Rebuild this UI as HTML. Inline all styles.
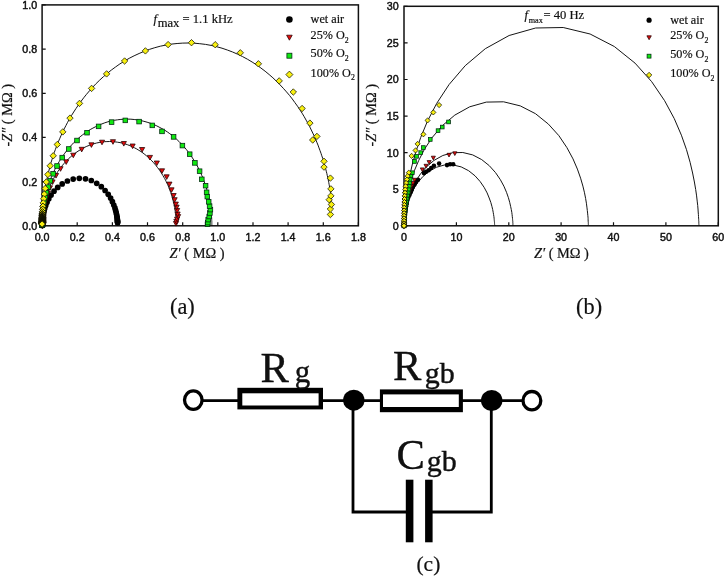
<!DOCTYPE html><html><head><meta charset="utf-8"><title>Impedance spectra</title>
<style>html,body{margin:0;padding:0;background:#fff}svg{display:block}.tk{font-family:"Liberation Sans",sans-serif;font-size:10.7px;fill:#111;stroke:#111;stroke-width:.45px}.se{font-family:"Liberation Serif",serif;fill:#111;stroke:#111;stroke-width:.2px}</style></head><body>
<svg width="725" height="578" viewBox="0 0 725 578">
<rect width="725" height="578" fill="#fff"/>
<rect x="42.1" y="4.9" width="316.29999999999995" height="220.9" fill="none" stroke="#111" stroke-width="1.5"/><path d="M42.1 225.8v-3.6M77.2 225.8v-3.6M112.4 225.8v-3.6M147.5 225.8v-3.6M182.7 225.8v-3.6M217.8 225.8v-3.6M253.0 225.8v-3.6M288.1 225.8v-3.6M323.3 225.8v-3.6M358.4 225.8v-3.6M42.1 225.8h3.6M42.1 181.6h3.6M42.1 137.4h3.6M42.1 93.3h3.6M42.1 49.1h3.6M42.1 4.9h3.6" stroke="#111" stroke-width="1.2" fill="none"/>
<path d="M42.1 225.8L42.1 225.7L42.1 225.6L42.1 225.5L42.1 225.4L42.1 225.3L42.1 225.2L42.1 225.1L42.1 225.0L42.1 224.9L42.1 224.8L42.1 224.7L42.1 224.6L42.1 224.5L42.1 224.4L42.1 224.3L42.1 224.2L42.1 224.1L42.1 224.0L42.1 223.9L42.1 223.8L42.1 223.7L42.1 223.6L42.1 223.5L42.1 223.4L42.1 223.3L42.1 223.2L42.1 223.1L42.1 223.0L42.1 222.9L42.1 222.8L42.1 222.7L42.1 222.6L42.2 222.4L42.2 222.3L42.2 222.2L42.2 222.0L42.2 221.9L42.2 221.7L42.2 221.6L42.2 221.4L42.2 221.2L42.2 221.0L42.2 220.8L42.2 220.6L42.2 220.4L42.2 220.2L42.3 220.0L42.3 219.8L42.3 219.5L42.3 219.3L42.3 219.0L42.3 218.7L42.4 218.5L42.4 218.2L42.4 217.9L42.4 217.5L42.4 217.2L42.5 216.9L42.5 216.5L42.5 216.1L42.6 215.8L42.6 215.4L42.7 215.0L42.7 214.5L42.8 214.1L42.8 213.6L42.9 213.1L42.9 212.6L43.0 212.1L43.1 211.6L43.1 211.0L43.2 210.4L43.3 209.8L43.4 209.2L43.5 208.5L43.6 207.9L43.8 207.2L43.9 206.4L44.0 205.7L44.2 204.9L44.4 204.1L44.5 203.3L44.7 202.4L44.9 201.5L45.2 200.6L45.4 199.6L45.7 198.6L46.0 197.6L46.3 196.5L46.6 195.4L47.0 194.3L47.3 193.1L47.7 192.0L48.2 190.7L48.7 189.4L49.2 188.1L49.7 186.8L50.3 185.4L50.9 184.0L51.6 182.6L52.3 181.1L53.1 179.6L53.9 178.1L54.7 176.5L55.7 175.0L56.7 173.4L57.7 171.7L58.8 170.1L60.0 168.5L61.3 166.8L62.6 165.2L64.0 163.5L65.5 161.9L67.0 160.2L68.6 158.6L70.4 157.1L72.1 155.5L74.0 154.0L76.0 152.6L78.0 151.2L80.1 149.9L82.3 148.6L84.5 147.4L86.8 146.3L89.2 145.4L91.6 144.5L94.1 143.7L96.6 143.0L99.1 142.5L101.7 142.0L104.3 141.7L106.9 141.6L109.6 141.5L112.2 141.6L114.8 141.8L117.4 142.2L120.0 142.6L122.5 143.2L125.0 143.9L127.5 144.7L129.9 145.7L132.3 146.7L134.5 147.8L136.8 149.0L138.9 150.3L141.0 151.6L143.0 153.0L144.9 154.5L146.7 156.0L148.5 157.6L150.2 159.2L151.8 160.8L153.3 162.4L154.8 164.1L156.1 165.7L157.4 167.4L158.7 169.0L159.8 170.6L160.9 172.3L161.9 173.9L162.9 175.5L163.8 177.1L164.7 178.6L165.5 180.1L166.2 181.6L166.9 183.1L167.6 184.5L168.2 185.9L168.8 187.3L169.3 188.6L169.8 189.9L170.2 191.1L170.7 192.4L171.1 193.5L171.4 194.7L171.8 195.8L172.1 196.9L172.4 197.9L172.7 199.0L172.9 199.9L173.2 200.9L173.4 201.8L173.6 202.7L173.8 203.5L174.0 204.4L174.1 205.2L174.3 205.9L174.4 206.7L174.6 207.4L174.7 208.1L174.8 208.8L174.9 209.4L175.0 210.0L175.1 210.6L175.2 211.2L175.2 211.7L175.3 212.3L175.4 212.8L175.4 213.3L175.5 213.8L175.5 214.2L175.6 214.7L175.6 215.1L175.7 215.5L175.7 215.9L175.7 216.3L175.8 216.6L175.8 217.0L175.8 217.3L175.9 217.6L175.9 218.0L175.9 218.3L175.9 218.5L175.9 218.8L176.0 219.1L176.0 219.4L176.0 219.6L176.0 219.8L176.0 220.1L176.0 220.3L176.0 220.5L176.1 220.7L176.1 220.9L176.1 221.1L176.1 221.3L176.1 221.4L176.1 221.6L176.1 221.8L176.1 221.9L176.1 222.1L176.1 222.2L176.1 222.4L176.1 222.5L176.1 222.6L176.1 222.7L176.1 222.9L176.1 223.0L176.1 223.1L176.1 223.2L176.1 223.3L176.1 223.4L176.2 223.5L176.2 223.6L176.2 223.7L176.2 223.8L176.2 223.9L176.2 224.0L176.2 224.1L176.2 224.2L176.2 224.3L176.2 224.4L176.2 224.5L176.2 224.6L176.2 224.7L176.2 224.8L176.2 224.9L176.2 225.0L176.2 225.1L176.2 225.2L176.2 225.3L176.2 225.4L176.2 225.5L176.2 225.6L176.2 225.8" fill="none" stroke="#151515" stroke-width="1.0" stroke-linejoin="round"/>
<path d="M42.1 225.8L42.1 225.7L42.1 225.6L42.1 225.5L42.1 225.4L42.1 225.3L42.1 225.2L42.1 225.1L42.1 225.0L42.1 224.9L42.1 224.8L42.1 224.7L42.1 224.6L42.1 224.5L42.1 224.4L42.1 224.3L42.1 224.2L42.1 224.1L42.1 224.0L42.1 223.9L42.1 223.8L42.1 223.7L42.1 223.6L42.1 223.5L42.1 223.4L42.1 223.3L42.1 223.2L42.1 223.1L42.1 223.0L42.1 222.9L42.1 222.8L42.1 222.7L42.1 222.6L42.1 222.4L42.1 222.3L42.1 222.2L42.2 222.0L42.2 221.9L42.2 221.7L42.2 221.5L42.2 221.4L42.2 221.2L42.2 221.0L42.2 220.8L42.2 220.6L42.2 220.4L42.2 220.2L42.2 220.0L42.2 219.8L42.2 219.5L42.3 219.3L42.3 219.0L42.3 218.7L42.3 218.4L42.3 218.2L42.3 217.8L42.4 217.5L42.4 217.2L42.4 216.9L42.4 216.5L42.4 216.1L42.5 215.7L42.5 215.3L42.5 214.9L42.6 214.5L42.6 214.0L42.7 213.6L42.7 213.1L42.8 212.6L42.8 212.1L42.9 211.5L42.9 211.0L43.0 210.4L43.1 209.8L43.1 209.1L43.2 208.5L43.3 207.8L43.4 207.1L43.5 206.3L43.6 205.6L43.8 204.8L43.9 204.0L44.0 203.1L44.2 202.2L44.4 201.3L44.6 200.3L44.7 199.4L45.0 198.3L45.2 197.3L45.4 196.2L45.7 195.0L46.0 193.9L46.3 192.6L46.6 191.4L47.0 190.1L47.4 188.7L47.8 187.4L48.2 185.9L48.7 184.5L49.2 182.9L49.8 181.4L50.4 179.8L51.0 178.1L51.7 176.4L52.5 174.7L53.3 172.9L54.1 171.1L55.0 169.2L56.0 167.3L57.0 165.4L58.1 163.4L59.3 161.4L60.5 159.4L61.9 157.4L63.3 155.3L64.8 153.2L66.4 151.1L68.0 149.0L69.8 146.9L71.7 144.9L73.6 142.8L75.7 140.8L77.9 138.8L80.1 136.8L82.5 134.9L85.0 133.1L87.5 131.3L90.2 129.6L92.9 128.1L95.8 126.6L98.7 125.2L101.7 124.0L104.8 122.8L107.9 121.8L111.1 121.0L114.3 120.3L117.6 119.8L120.9 119.4L124.2 119.2L127.5 119.1L130.9 119.2L134.2 119.5L137.5 119.9L140.7 120.5L143.9 121.3L147.1 122.2L150.2 123.2L153.3 124.4L156.2 125.6L159.1 127.1L161.9 128.6L164.7 130.2L167.3 131.9L169.8 133.7L172.2 135.5L174.6 137.5L176.8 139.4L178.9 141.4L181.0 143.5L182.9 145.5L184.7 147.6L186.5 149.7L188.1 151.8L189.7 153.9L191.1 156.0L192.5 158.0L193.8 160.1L195.1 162.1L196.2 164.1L197.3 166.0L198.3 168.0L199.2 169.9L200.1 171.7L201.0 173.5L201.7 175.3L202.5 177.0L203.1 178.7L203.7 180.3L204.3 181.9L204.9 183.5L205.4 185.0L205.9 186.4L206.3 187.8L206.7 189.2L207.1 190.5L207.4 191.8L207.8 193.1L208.1 194.3L208.3 195.4L208.6 196.5L208.8 197.6L209.1 198.7L209.3 199.7L209.5 200.7L209.6 201.6L209.8 202.5L210.0 203.4L210.1 204.2L210.2 205.0L210.3 205.8L210.5 206.6L210.6 207.3L210.7 208.0L210.7 208.7L210.8 209.3L210.9 210.0L211.0 210.6L211.0 211.1L211.1 211.7L211.2 212.2L211.2 212.8L211.3 213.3L211.3 213.7L211.3 214.2L211.4 214.6L211.4 215.1L211.4 215.5L211.5 215.9L211.5 216.3L211.5 216.6L211.6 217.0L211.6 217.3L211.6 217.6L211.6 217.9L211.6 218.2L211.7 218.5L211.7 218.8L211.7 219.1L211.7 219.3L211.7 219.6L211.7 219.8L211.7 220.1L211.7 220.3L211.7 220.5L211.8 220.7L211.8 220.9L211.8 221.1L211.8 221.3L211.8 221.4L211.8 221.6L211.8 221.8L211.8 221.9L211.8 222.1L211.8 222.2L211.8 222.4L211.8 222.5L211.8 222.6L211.8 222.7L211.8 222.9L211.8 223.0L211.8 223.1L211.8 223.2L211.8 223.3L211.8 223.4L211.8 223.5L211.8 223.6L211.8 223.7L211.8 223.8L211.8 223.9L211.8 224.0L211.8 224.1L211.8 224.2L211.8 224.3L211.8 224.4L211.8 224.5L211.8 224.6L211.8 224.7L211.8 224.8L211.8 224.9L211.8 225.0L211.8 225.1L211.8 225.2L211.8 225.3L211.8 225.4L211.8 225.5L211.8 225.6L211.8 225.8" fill="none" stroke="#151515" stroke-width="1.0" stroke-linejoin="round"/>
<path d="M42.1 225.8L42.1 225.7L42.1 225.6L42.1 225.5L42.1 225.4L42.1 225.3L42.1 225.2L42.1 225.1L42.1 225.0L42.1 224.9L42.1 224.8L42.1 224.7L42.1 224.6L42.1 224.5L42.1 224.4L42.1 224.3L42.1 224.2L42.1 224.1L42.1 224.0L42.1 223.9L42.1 223.8L42.1 223.7L42.1 223.6L42.1 223.5L42.1 223.4L42.1 223.3L42.1 223.2L42.1 223.1L42.1 223.0L42.1 222.8L42.1 222.7L42.1 222.6L42.1 222.5L42.1 222.3L42.1 222.2L42.1 222.1L42.1 221.9L42.1 221.8L42.1 221.6L42.1 221.4L42.1 221.2L42.1 221.1L42.2 220.9L42.2 220.7L42.2 220.5L42.2 220.3L42.2 220.0L42.2 219.8L42.2 219.6L42.2 219.3L42.2 219.1L42.2 218.8L42.2 218.5L42.2 218.2L42.2 217.9L42.2 217.6L42.3 217.3L42.3 216.9L42.3 216.6L42.3 216.2L42.3 215.8L42.3 215.4L42.4 215.0L42.4 214.6L42.4 214.1L42.4 213.7L42.4 213.2L42.5 212.7L42.5 212.2L42.5 211.6L42.6 211.1L42.6 210.5L42.7 209.9L42.7 209.2L42.7 208.6L42.8 207.9L42.9 207.2L42.9 206.4L43.0 205.7L43.1 204.9L43.1 204.0L43.2 203.2L43.3 202.3L43.4 201.3L43.5 200.4L43.6 199.4L43.8 198.3L43.9 197.2L44.0 196.1L44.2 194.9L44.4 193.7L44.5 192.4L44.7 191.1L45.0 189.8L45.2 188.4L45.4 186.9L45.7 185.4L46.0 183.8L46.3 182.2L46.6 180.5L47.0 178.7L47.4 176.9L47.8 175.0L48.3 173.1L48.8 171.1L49.3 169.0L49.9 166.8L50.5 164.6L51.1 162.3L51.9 159.9L52.6 157.5L53.5 155.0L54.3 152.4L55.3 149.7L56.3 147.0L57.4 144.1L58.6 141.2L59.9 138.2L61.2 135.2L62.7 132.1L64.2 128.9L65.9 125.6L67.6 122.3L69.5 118.9L71.5 115.5L73.7 112.0L76.0 108.5L78.4 105.0L81.0 101.4L83.7 97.8L86.5 94.3L89.6 90.7L92.8 87.1L96.1 83.6L99.7 80.1L103.4 76.7L107.3 73.4L111.3 70.1L115.5 67.0L119.9 63.9L124.5 61.1L129.2 58.3L134.1 55.8L139.1 53.5L144.2 51.3L149.4 49.4L154.8 47.7L160.3 46.2L165.8 45.1L171.4 44.1L177.1 43.5L182.8 43.1L188.5 43.0L194.2 43.2L199.8 43.7L205.5 44.4L211.1 45.4L216.6 46.7L222.0 48.2L227.3 50.0L232.6 52.0L237.6 54.2L242.6 56.6L247.4 59.2L252.1 62.0L256.6 64.9L260.9 68.0L265.1 71.2L269.1 74.5L272.9 77.8L276.5 81.3L280.0 84.8L283.3 88.3L286.5 91.9L289.5 95.4L292.3 99.0L294.9 102.6L297.5 106.2L299.8 109.7L302.1 113.2L304.2 116.7L306.1 120.1L308.0 123.4L309.7 126.7L311.3 130.0L312.8 133.1L314.3 136.2L315.6 139.2L316.8 142.2L318.0 145.1L319.0 147.9L320.0 150.6L321.0 153.3L321.8 155.8L322.7 158.3L323.4 160.7L324.1 163.1L324.7 165.4L325.3 167.6L325.9 169.7L326.4 171.8L326.9 173.7L327.3 175.7L327.8 177.5L328.1 179.3L328.5 181.1L328.8 182.7L329.1 184.3L329.4 185.9L329.7 187.4L329.9 188.8L330.1 190.2L330.3 191.6L330.5 192.9L330.7 194.1L330.9 195.3L331.0 196.5L331.2 197.6L331.3 198.7L331.4 199.7" fill="none" stroke="#151515" stroke-width="1.0" stroke-linejoin="round"/>
<g><circle cx="117.6" cy="222.8" r="2.85" fill="#000"/><circle cx="117.6" cy="222.2" r="2.85" fill="#000"/><circle cx="117.5" cy="221.6" r="2.85" fill="#000"/><circle cx="117.5" cy="220.8" r="2.85" fill="#000"/><circle cx="117.4" cy="219.9" r="2.85" fill="#000"/><circle cx="117.3" cy="218.9" r="2.85" fill="#000"/><circle cx="117.1" cy="217.7" r="2.85" fill="#000"/><circle cx="116.9" cy="216.3" r="2.85" fill="#000"/><circle cx="116.6" cy="214.6" r="2.85" fill="#000"/><circle cx="116.2" cy="212.7" r="2.85" fill="#000"/><circle cx="115.6" cy="210.4" r="2.85" fill="#000"/><circle cx="114.9" cy="207.9" r="2.85" fill="#000"/><circle cx="113.8" cy="205.0" r="2.85" fill="#000"/><circle cx="112.4" cy="201.7" r="2.85" fill="#000"/><circle cx="110.6" cy="198.1" r="2.85" fill="#000"/><circle cx="108.2" cy="194.3" r="2.85" fill="#000"/><circle cx="105.1" cy="190.5" r="2.85" fill="#000"/><circle cx="101.3" cy="186.7" r="2.85" fill="#000"/><circle cx="96.7" cy="183.3" r="2.85" fill="#000"/><circle cx="91.3" cy="180.5" r="2.85" fill="#000"/><circle cx="85.5" cy="178.8" r="2.85" fill="#000"/><circle cx="79.3" cy="178.3" r="2.85" fill="#000"/><circle cx="73.2" cy="179.1" r="2.85" fill="#000"/><circle cx="67.4" cy="181.0" r="2.85" fill="#000"/><circle cx="62.2" cy="183.9" r="2.85" fill="#000"/><circle cx="57.7" cy="187.4" r="2.85" fill="#000"/><circle cx="54.0" cy="191.2" r="2.85" fill="#000"/><circle cx="51.1" cy="195.1" r="2.85" fill="#000"/><circle cx="48.8" cy="198.8" r="2.85" fill="#000"/><circle cx="47.0" cy="202.3" r="2.85" fill="#000"/><circle cx="45.7" cy="205.5" r="2.85" fill="#000"/><circle cx="44.7" cy="208.4" r="2.85" fill="#000"/><circle cx="44.0" cy="210.9" r="2.85" fill="#000"/><circle cx="43.5" cy="213.0" r="2.85" fill="#000"/><circle cx="43.1" cy="214.9" r="2.85" fill="#000"/><circle cx="42.8" cy="216.5" r="2.85" fill="#000"/><circle cx="42.6" cy="217.9" r="2.85" fill="#000"/><circle cx="42.5" cy="219.1" r="2.85" fill="#000"/><circle cx="42.4" cy="220.1" r="2.85" fill="#000"/><circle cx="42.3" cy="221.0" r="2.85" fill="#000"/><circle cx="42.2" cy="221.7" r="2.85" fill="#000"/><circle cx="42.2" cy="222.3" r="2.85" fill="#000"/><circle cx="42.2" cy="222.8" r="2.85" fill="#000"/><circle cx="42.2" cy="223.3" r="2.85" fill="#000"/><circle cx="42.1" cy="223.7" r="2.85" fill="#000"/><circle cx="42.1" cy="224.0" r="2.85" fill="#000"/><circle cx="42.1" cy="224.3" r="2.85" fill="#000"/><circle cx="42.1" cy="224.5" r="2.85" fill="#000"/><circle cx="42.1" cy="224.7" r="2.85" fill="#000"/><circle cx="42.1" cy="224.9" r="2.85" fill="#000"/><circle cx="42.1" cy="225.0" r="2.85" fill="#000"/><circle cx="42.1" cy="225.1" r="2.85" fill="#000"/><circle cx="42.1" cy="225.2" r="2.85" fill="#000"/><circle cx="42.1" cy="225.3" r="2.85" fill="#000"/><circle cx="42.1" cy="225.4" r="2.85" fill="#000"/></g>
<g><path d="M173.4 221.5L178.6 221.5L176.0 226.1Z" fill="#e40c0c" stroke="#200" stroke-width="0.75"/><path d="M173.8 219.4L179.0 219.4L176.4 224.0Z" fill="#e40c0c" stroke="#200" stroke-width="0.75"/><path d="M174.5 217.2L179.7 217.2L177.1 221.8Z" fill="#e40c0c" stroke="#200" stroke-width="0.75"/><path d="M175.5 214.6L180.7 214.6L178.1 219.2Z" fill="#e40c0c" stroke="#200" stroke-width="0.75"/><path d="M175.0 212.0L180.2 212.0L177.6 216.6Z" fill="#e40c0c" stroke="#200" stroke-width="0.75"/><path d="M174.5 208.5L179.7 208.5L177.1 213.1Z" fill="#e40c0c" stroke="#200" stroke-width="0.75"/><path d="M174.1 205.1L179.2 205.1L176.7 209.7Z" fill="#e40c0c" stroke="#200" stroke-width="0.75"/><path d="M173.2 202.1L178.4 202.1L175.8 206.7Z" fill="#e40c0c" stroke="#200" stroke-width="0.75"/><path d="M172.0 197.7L177.2 197.7L174.6 202.3Z" fill="#e40c0c" stroke="#200" stroke-width="0.75"/><path d="M171.0 193.5L176.2 193.5L173.6 198.1Z" fill="#e40c0c" stroke="#200" stroke-width="0.75"/><path d="M168.9 187.8L174.1 187.8L171.5 192.4Z" fill="#e40c0c" stroke="#200" stroke-width="0.75"/><path d="M166.8 182.1L172.0 182.1L169.4 186.7Z" fill="#e40c0c" stroke="#200" stroke-width="0.75"/><path d="M164.1 174.8L169.2 174.8L166.7 179.4Z" fill="#e40c0c" stroke="#200" stroke-width="0.75"/><path d="M159.4 168.8L164.6 168.8L162.0 173.4Z" fill="#e40c0c" stroke="#200" stroke-width="0.75"/><path d="M154.2 161.0L159.4 161.0L156.8 165.6Z" fill="#e40c0c" stroke="#200" stroke-width="0.75"/><path d="M147.3 155.4L152.5 155.4L149.9 160.0Z" fill="#e40c0c" stroke="#200" stroke-width="0.75"/><path d="M139.5 147.5L144.7 147.5L142.1 152.1Z" fill="#e40c0c" stroke="#200" stroke-width="0.75"/><path d="M130.0 144.0L135.2 144.0L132.6 148.6Z" fill="#e40c0c" stroke="#200" stroke-width="0.75"/><path d="M121.3 141.5L126.4 141.5L123.8 146.1Z" fill="#e40c0c" stroke="#200" stroke-width="0.75"/><path d="M110.4 139.7L115.5 139.7L113.0 144.3Z" fill="#e40c0c" stroke="#200" stroke-width="0.75"/><path d="M99.5 140.2L104.6 140.2L102.0 144.8Z" fill="#e40c0c" stroke="#200" stroke-width="0.75"/><path d="M88.9 142.8L94.0 142.8L91.4 147.4Z" fill="#e40c0c" stroke="#200" stroke-width="0.75"/><path d="M79.2 147.3L84.3 147.3L81.7 151.9Z" fill="#e40c0c" stroke="#200" stroke-width="0.75"/><path d="M70.7 153.2L75.8 153.2L73.3 157.7Z" fill="#e40c0c" stroke="#200" stroke-width="0.75"/><path d="M63.7 159.8L68.8 159.8L66.2 164.4Z" fill="#e40c0c" stroke="#200" stroke-width="0.75"/><path d="M58.0 166.7L63.1 166.7L60.5 171.3Z" fill="#e40c0c" stroke="#200" stroke-width="0.75"/><path d="M53.5 173.5L58.6 173.5L56.0 178.1Z" fill="#e40c0c" stroke="#200" stroke-width="0.75"/><path d="M50.0 179.9L55.1 179.9L52.6 184.5Z" fill="#e40c0c" stroke="#200" stroke-width="0.75"/><path d="M47.4 185.8L52.5 185.8L49.9 190.4Z" fill="#e40c0c" stroke="#200" stroke-width="0.75"/><path d="M45.4 191.1L50.5 191.1L48.0 195.7Z" fill="#e40c0c" stroke="#200" stroke-width="0.75"/><path d="M44.0 195.7L49.1 195.7L46.6 200.3Z" fill="#e40c0c" stroke="#200" stroke-width="0.75"/><path d="M42.9 199.8L48.0 199.8L45.5 204.4Z" fill="#e40c0c" stroke="#200" stroke-width="0.75"/><path d="M42.2 203.3L47.3 203.3L44.7 207.9Z" fill="#e40c0c" stroke="#200" stroke-width="0.95"/><path d="M41.6 206.4L46.7 206.4L44.2 211.0Z" fill="#e40c0c" stroke="#200" stroke-width="0.95"/><path d="M41.2 209.0L46.3 209.0L43.8 213.6Z" fill="#e40c0c" stroke="#200" stroke-width="0.95"/><path d="M40.9 211.2L46.0 211.2L43.5 215.8Z" fill="#e40c0c" stroke="#200" stroke-width="1.15"/><path d="M40.7 213.1L45.8 213.1L43.2 217.7Z" fill="#e40c0c" stroke="#200" stroke-width="1.15"/><path d="M40.5 214.7L45.6 214.7L43.1 219.3Z" fill="#e40c0c" stroke="#200" stroke-width="1.15"/><path d="M40.4 216.1L45.5 216.1L43.0 220.7Z" fill="#e40c0c" stroke="#200" stroke-width="1.35"/><path d="M40.4 217.3L45.5 217.3L42.9 221.9Z" fill="#e40c0c" stroke="#200" stroke-width="1.35"/><path d="M40.3 218.3L45.4 218.3L42.8 222.9Z" fill="#e40c0c" stroke="#200" stroke-width="1.35"/><path d="M40.3 219.1L45.4 219.1L42.8 223.7Z" fill="#e40c0c" stroke="#200" stroke-width="1.35"/><path d="M40.2 219.9L45.3 219.9L42.8 224.5Z" fill="#e40c0c" stroke="#200" stroke-width="1.35"/><path d="M40.2 220.5L45.3 220.5L42.8 225.1Z" fill="#e40c0c" stroke="#200" stroke-width="1.35"/><path d="M40.2 221.0L45.3 221.0L42.7 225.6Z" fill="#e40c0c" stroke="#200" stroke-width="1.35"/><path d="M40.2 221.4L45.3 221.4L42.7 226.0Z" fill="#e40c0c" stroke="#200" stroke-width="1.35"/><path d="M40.2 221.8L45.3 221.8L42.7 226.4Z" fill="#e40c0c" stroke="#200" stroke-width="1.35"/><path d="M40.2 222.1L45.3 222.1L42.7 226.7Z" fill="#e40c0c" stroke="#200" stroke-width="1.35"/><path d="M40.2 222.4L45.3 222.4L42.7 227.0Z" fill="#e40c0c" stroke="#200" stroke-width="1.35"/><path d="M40.2 222.6L45.3 222.6L42.7 227.2Z" fill="#e40c0c" stroke="#200" stroke-width="1.35"/><path d="M40.2 222.8L45.3 222.8L42.7 227.4Z" fill="#e40c0c" stroke="#200" stroke-width="1.35"/><path d="M40.2 223.0L45.3 223.0L42.7 227.6Z" fill="#e40c0c" stroke="#200" stroke-width="1.35"/><path d="M40.2 223.1L45.3 223.1L42.7 227.7Z" fill="#e40c0c" stroke="#200" stroke-width="0.75"/></g>
<g><rect x="205.2" y="222.0" width="4.6" height="4.6" fill="#10e810" stroke="#021" stroke-width="0.75"/><rect x="205.6" y="220.3" width="4.6" height="4.6" fill="#10e810" stroke="#021" stroke-width="0.75"/><rect x="205.9" y="217.3" width="4.6" height="4.6" fill="#10e810" stroke="#021" stroke-width="0.75"/><rect x="206.9" y="214.2" width="4.6" height="4.6" fill="#10e810" stroke="#021" stroke-width="0.75"/><rect x="207.6" y="210.7" width="4.6" height="4.6" fill="#10e810" stroke="#021" stroke-width="0.75"/><rect x="208.1" y="207.3" width="4.6" height="4.6" fill="#10e810" stroke="#021" stroke-width="0.75"/><rect x="207.3" y="203.8" width="4.6" height="4.6" fill="#10e810" stroke="#021" stroke-width="0.75"/><rect x="206.4" y="199.5" width="4.6" height="4.6" fill="#10e810" stroke="#021" stroke-width="0.75"/><rect x="205.0" y="194.3" width="4.6" height="4.6" fill="#10e810" stroke="#021" stroke-width="0.75"/><rect x="204.3" y="190.0" width="4.6" height="4.6" fill="#10e810" stroke="#021" stroke-width="0.75"/><rect x="203.3" y="183.4" width="4.6" height="4.6" fill="#10e810" stroke="#021" stroke-width="0.75"/><rect x="199.5" y="177.0" width="4.6" height="4.6" fill="#10e810" stroke="#021" stroke-width="0.75"/><rect x="197.3" y="168.9" width="4.6" height="4.6" fill="#10e810" stroke="#021" stroke-width="0.75"/><rect x="192.6" y="160.6" width="4.6" height="4.6" fill="#10e810" stroke="#021" stroke-width="0.75"/><rect x="187.4" y="151.9" width="4.6" height="4.6" fill="#10e810" stroke="#021" stroke-width="0.75"/><rect x="180.1" y="143.3" width="4.6" height="4.6" fill="#10e810" stroke="#021" stroke-width="0.75"/><rect x="171.3" y="134.6" width="4.6" height="4.6" fill="#10e810" stroke="#021" stroke-width="0.75"/><rect x="159.7" y="129.1" width="4.6" height="4.6" fill="#10e810" stroke="#021" stroke-width="0.75"/><rect x="150.0" y="123.1" width="4.6" height="4.6" fill="#10e810" stroke="#021" stroke-width="0.75"/><rect x="136.8" y="119.3" width="4.6" height="4.6" fill="#10e810" stroke="#021" stroke-width="0.75"/><rect x="123.0" y="118.1" width="4.6" height="4.6" fill="#10e810" stroke="#021" stroke-width="0.75"/><rect x="109.3" y="119.8" width="4.6" height="4.6" fill="#10e810" stroke="#021" stroke-width="0.75"/><rect x="96.3" y="124.1" width="4.6" height="4.6" fill="#10e810" stroke="#021" stroke-width="0.75"/><rect x="84.7" y="130.4" width="4.6" height="4.6" fill="#10e810" stroke="#021" stroke-width="0.75"/><rect x="74.7" y="138.2" width="4.6" height="4.6" fill="#10e810" stroke="#021" stroke-width="0.75"/><rect x="66.5" y="146.7" width="4.6" height="4.6" fill="#10e810" stroke="#021" stroke-width="0.75"/><rect x="59.9" y="155.3" width="4.6" height="4.6" fill="#10e810" stroke="#021" stroke-width="0.75"/><rect x="54.7" y="163.7" width="4.6" height="4.6" fill="#10e810" stroke="#021" stroke-width="0.75"/><rect x="50.8" y="171.5" width="4.6" height="4.6" fill="#10e810" stroke="#021" stroke-width="0.75"/><rect x="47.9" y="178.5" width="4.6" height="4.6" fill="#10e810" stroke="#021" stroke-width="0.75"/><rect x="45.7" y="184.8" width="4.6" height="4.6" fill="#10e810" stroke="#021" stroke-width="0.75"/><rect x="44.1" y="190.4" width="4.6" height="4.6" fill="#10e810" stroke="#021" stroke-width="0.75"/><rect x="42.9" y="195.2" width="4.6" height="4.6" fill="#10e810" stroke="#021" stroke-width="0.75"/><rect x="42.0" y="199.4" width="4.6" height="4.6" fill="#10e810" stroke="#021" stroke-width="0.75"/><rect x="41.4" y="202.9" width="4.6" height="4.6" fill="#10e810" stroke="#021" stroke-width="0.95"/><rect x="41.0" y="206.0" width="4.6" height="4.6" fill="#10e810" stroke="#021" stroke-width="0.95"/><rect x="40.6" y="208.6" width="4.6" height="4.6" fill="#10e810" stroke="#021" stroke-width="0.95"/><rect x="40.4" y="210.9" width="4.6" height="4.6" fill="#10e810" stroke="#021" stroke-width="1.15"/><rect x="40.2" y="212.8" width="4.6" height="4.6" fill="#10e810" stroke="#021" stroke-width="1.15"/><rect x="40.1" y="214.4" width="4.6" height="4.6" fill="#10e810" stroke="#021" stroke-width="1.15"/><rect x="40.0" y="215.8" width="4.6" height="4.6" fill="#10e810" stroke="#021" stroke-width="1.35"/><rect x="40.0" y="216.9" width="4.6" height="4.6" fill="#10e810" stroke="#021" stroke-width="1.35"/><rect x="39.9" y="217.9" width="4.6" height="4.6" fill="#10e810" stroke="#021" stroke-width="1.35"/><rect x="39.9" y="218.8" width="4.6" height="4.6" fill="#10e810" stroke="#021" stroke-width="1.35"/><rect x="39.9" y="219.5" width="4.6" height="4.6" fill="#10e810" stroke="#021" stroke-width="1.35"/><rect x="39.8" y="220.1" width="4.6" height="4.6" fill="#10e810" stroke="#021" stroke-width="1.35"/><rect x="39.8" y="220.6" width="4.6" height="4.6" fill="#10e810" stroke="#021" stroke-width="1.35"/><rect x="39.8" y="221.1" width="4.6" height="4.6" fill="#10e810" stroke="#021" stroke-width="1.35"/><rect x="39.8" y="221.4" width="4.6" height="4.6" fill="#10e810" stroke="#021" stroke-width="1.35"/><rect x="39.8" y="221.7" width="4.6" height="4.6" fill="#10e810" stroke="#021" stroke-width="1.35"/><rect x="39.8" y="222.0" width="4.6" height="4.6" fill="#10e810" stroke="#021" stroke-width="1.35"/><rect x="39.8" y="222.2" width="4.6" height="4.6" fill="#10e810" stroke="#021" stroke-width="1.35"/><rect x="39.8" y="222.4" width="4.6" height="4.6" fill="#10e810" stroke="#021" stroke-width="1.35"/><rect x="39.8" y="222.6" width="4.6" height="4.6" fill="#10e810" stroke="#021" stroke-width="0.75"/></g>
<g><path d="M327.2 214.5L330.4 211.3L333.6 214.5L330.4 217.7Z" fill="#f8f010" stroke="#110" stroke-width="0.75"/><path d="M327.2 209.0L330.4 205.8L333.6 209.0L330.4 212.2Z" fill="#f8f010" stroke="#110" stroke-width="0.75"/><path d="M328.2 204.5L331.4 201.3L334.6 204.5L331.4 207.7Z" fill="#f8f010" stroke="#110" stroke-width="0.75"/><path d="M326.0 199.7L329.2 196.5L332.4 199.7L329.2 202.9Z" fill="#f8f010" stroke="#110" stroke-width="0.75"/><path d="M327.7 195.9L330.9 192.7L334.1 195.9L330.9 199.1Z" fill="#f8f010" stroke="#110" stroke-width="0.75"/><path d="M327.7 188.9L330.9 185.7L334.1 188.9L330.9 192.1Z" fill="#f8f010" stroke="#110" stroke-width="0.75"/><path d="M327.2 178.1L330.4 174.9L333.6 178.1L330.4 181.3Z" fill="#f8f010" stroke="#110" stroke-width="0.75"/><path d="M320.8 167.1L324.0 163.9L327.2 167.1L324.0 170.3Z" fill="#f8f010" stroke="#110" stroke-width="0.75"/><path d="M320.8 161.3L324.0 158.1L327.2 161.3L324.0 164.5Z" fill="#f8f010" stroke="#110" stroke-width="0.75"/><path d="M309.5 140.0L312.7 136.8L315.9 140.0L312.7 143.2Z" fill="#f8f010" stroke="#110" stroke-width="0.75"/><path d="M313.7 136.4L316.9 133.2L320.1 136.4L316.9 139.6Z" fill="#f8f010" stroke="#110" stroke-width="0.75"/><path d="M306.7 123.1L309.9 119.9L313.1 123.1L309.9 126.3Z" fill="#f8f010" stroke="#110" stroke-width="0.75"/><path d="M298.9 108.5L302.1 105.3L305.3 108.5L302.1 111.7Z" fill="#f8f010" stroke="#110" stroke-width="0.75"/><path d="M290.1 92.0L293.3 88.8L296.5 92.0L293.3 95.2Z" fill="#f8f010" stroke="#110" stroke-width="0.75"/><path d="M276.0 80.9L279.2 77.7L282.4 80.9L279.2 84.1Z" fill="#f8f010" stroke="#110" stroke-width="0.75"/><path d="M255.2 63.8L258.4 60.6L261.6 63.8L258.4 67.0Z" fill="#f8f010" stroke="#110" stroke-width="0.75"/><path d="M237.1 52.8L240.3 49.6L243.5 52.8L240.3 56.0Z" fill="#f8f010" stroke="#110" stroke-width="0.75"/><path d="M212.0 44.7L215.2 41.5L218.4 44.7L215.2 47.9Z" fill="#f8f010" stroke="#110" stroke-width="0.75"/><path d="M188.3 42.7L191.5 39.5L194.7 42.7L191.5 45.9Z" fill="#f8f010" stroke="#110" stroke-width="0.75"/><path d="M164.9 44.6L168.1 41.4L171.3 44.6L168.1 47.8Z" fill="#f8f010" stroke="#110" stroke-width="0.75"/><path d="M142.2 50.9L145.4 47.7L148.6 50.9L145.4 54.1Z" fill="#f8f010" stroke="#110" stroke-width="0.75"/><path d="M121.4 61.0L124.6 57.8L127.8 61.0L124.6 64.2Z" fill="#f8f010" stroke="#110" stroke-width="0.75"/><path d="M103.4 73.9L106.6 70.7L109.8 73.9L106.6 77.1Z" fill="#f8f010" stroke="#110" stroke-width="0.75"/><path d="M88.4 88.4L91.6 85.2L94.8 88.4L91.6 91.6Z" fill="#f8f010" stroke="#110" stroke-width="0.75"/><path d="M76.3 103.4L79.5 100.2L82.7 103.4L79.5 106.6Z" fill="#f8f010" stroke="#110" stroke-width="0.75"/><path d="M66.8 118.1L70.0 114.9L73.2 118.1L70.0 121.3Z" fill="#f8f010" stroke="#110" stroke-width="0.75"/><path d="M59.6 131.9L62.8 128.7L66.0 131.9L62.8 135.1Z" fill="#f8f010" stroke="#110" stroke-width="0.75"/><path d="M54.1 144.5L57.3 141.3L60.5 144.5L57.3 147.7Z" fill="#f8f010" stroke="#110" stroke-width="0.75"/><path d="M50.0 155.8L53.2 152.6L56.4 155.8L53.2 159.0Z" fill="#f8f010" stroke="#110" stroke-width="0.75"/><path d="M47.0 165.8L50.2 162.6L53.4 165.8L50.2 169.0Z" fill="#f8f010" stroke="#110" stroke-width="0.75"/><path d="M44.7 174.5L47.9 171.3L51.1 174.5L47.9 177.7Z" fill="#f8f010" stroke="#110" stroke-width="0.75"/><path d="M43.1 182.0L46.3 178.8L49.5 182.0L46.3 185.2Z" fill="#f8f010" stroke="#110" stroke-width="0.75"/><path d="M42.0 188.5L45.2 185.3L48.4 188.5L45.2 191.7Z" fill="#f8f010" stroke="#110" stroke-width="0.75"/><path d="M41.1 194.1L44.3 190.9L47.5 194.1L44.3 197.3Z" fill="#f8f010" stroke="#110" stroke-width="0.75"/><path d="M40.5 198.8L43.7 195.6L46.9 198.8L43.7 202.0Z" fill="#f8f010" stroke="#110" stroke-width="0.75"/><path d="M40.0 202.9L43.2 199.7L46.4 202.9L43.2 206.1Z" fill="#f8f010" stroke="#110" stroke-width="0.75"/><path d="M39.7 206.3L42.9 203.1L46.1 206.3L42.9 209.5Z" fill="#f8f010" stroke="#110" stroke-width="0.95"/><path d="M39.5 209.3L42.7 206.1L45.9 209.3L42.7 212.5Z" fill="#f8f010" stroke="#110" stroke-width="0.95"/><path d="M39.3 211.8L42.5 208.6L45.7 211.8L42.5 215.0Z" fill="#f8f010" stroke="#110" stroke-width="0.95"/><path d="M39.2 213.9L42.4 210.7L45.6 213.9L42.4 217.1Z" fill="#f8f010" stroke="#110" stroke-width="1.15"/><path d="M39.1 215.7L42.3 212.5L45.5 215.7L42.3 218.9Z" fill="#f8f010" stroke="#110" stroke-width="1.15"/><path d="M39.1 217.2L42.3 214.0L45.5 217.2L42.3 220.4Z" fill="#f8f010" stroke="#110" stroke-width="1.35"/><path d="M39.0 218.5L42.2 215.3L45.4 218.5L42.2 221.7Z" fill="#f8f010" stroke="#110" stroke-width="1.35"/><path d="M39.0 219.6L42.2 216.4L45.4 219.6L42.2 222.8Z" fill="#f8f010" stroke="#110" stroke-width="1.35"/><path d="M39.0 220.6L42.2 217.4L45.4 220.6L42.2 223.8Z" fill="#f8f010" stroke="#110" stroke-width="1.35"/><path d="M38.9 221.4L42.1 218.2L45.3 221.4L42.1 224.6Z" fill="#f8f010" stroke="#110" stroke-width="1.35"/><path d="M38.9 222.0L42.1 218.8L45.3 222.0L42.1 225.2Z" fill="#f8f010" stroke="#110" stroke-width="1.35"/><path d="M38.9 222.6L42.1 219.4L45.3 222.6L42.1 225.8Z" fill="#f8f010" stroke="#110" stroke-width="1.35"/><path d="M38.9 223.1L42.1 219.9L45.3 223.1L42.1 226.3Z" fill="#f8f010" stroke="#110" stroke-width="1.35"/><path d="M38.9 223.5L42.1 220.3L45.3 223.5L42.1 226.7Z" fill="#f8f010" stroke="#110" stroke-width="1.35"/><path d="M38.9 223.8L42.1 220.6L45.3 223.8L42.1 227.0Z" fill="#f8f010" stroke="#110" stroke-width="1.35"/><path d="M38.9 224.1L42.1 220.9L45.3 224.1L42.1 227.3Z" fill="#f8f010" stroke="#110" stroke-width="0.75"/></g>
<text class="tk" x="42.1" y="240.7" text-anchor="middle">0.0</text>
<text class="tk" x="77.2" y="240.7" text-anchor="middle">0.2</text>
<text class="tk" x="112.4" y="240.7" text-anchor="middle">0.4</text>
<text class="tk" x="147.5" y="240.7" text-anchor="middle">0.6</text>
<text class="tk" x="182.7" y="240.7" text-anchor="middle">0.8</text>
<text class="tk" x="217.8" y="240.7" text-anchor="middle">1.0</text>
<text class="tk" x="253.0" y="240.7" text-anchor="middle">1.2</text>
<text class="tk" x="288.1" y="240.7" text-anchor="middle">1.4</text>
<text class="tk" x="323.3" y="240.7" text-anchor="middle">1.6</text>
<text class="tk" x="358.4" y="240.7" text-anchor="middle">1.8</text>
<text class="tk" x="37.2" y="229.7" text-anchor="end">0.0</text>
<text class="tk" x="37.2" y="185.5" text-anchor="end">0.2</text>
<text class="tk" x="37.2" y="141.3" text-anchor="end">0.4</text>
<text class="tk" x="37.2" y="97.2" text-anchor="end">0.6</text>
<text class="tk" x="37.2" y="53.0" text-anchor="end">0.8</text>
<text class="tk" x="37.2" y="8.8" text-anchor="end">1.0</text>
<rect x="404.0" y="6.3" width="314.29999999999995" height="219.5" fill="none" stroke="#111" stroke-width="1.5"/><path d="M404.0 225.8v-3.6M456.4 225.8v-3.6M508.8 225.8v-3.6M561.1 225.8v-3.6M613.5 225.8v-3.6M665.9 225.8v-3.6M718.3 225.8v-3.6M404.0 225.8h3.6M404.0 189.2h3.6M404.0 152.6h3.6M404.0 116.1h3.6M404.0 79.5h3.6M404.0 42.9h3.6M404.0 6.3h3.6" stroke="#111" stroke-width="1.2" fill="none"/>
<path d="M404.0 225.8L404.0 225.7L404.0 225.6L404.0 225.5L404.0 225.4L404.0 225.3L404.0 225.2L404.0 225.1L404.0 224.9L404.0 224.7L404.0 224.5L404.1 224.2L404.1 223.9L404.1 223.5L404.1 223.0L404.2 222.4L404.2 221.7L404.3 220.8L404.4 219.7L404.5 218.4L404.7 216.9L404.9 215.0L405.3 212.7L405.8 210.0L406.6 206.8L407.6 203.0L409.1 198.7L411.2 193.7L414.0 188.2L417.9 182.4L422.8 176.6L429.0 171.4L436.3 167.3L444.4 165.0L452.9 164.9L461.2 166.9L468.6 170.7L475.0 175.8L480.1 181.5L484.1 187.3L487.1 192.9L489.2 198.0L490.8 202.4L491.9 206.3L492.7 209.6L493.2 212.3L493.6 214.7L493.9 216.6L494.1 218.2L494.2 219.5L494.3 220.6L494.4 221.5L494.5 222.3L494.5 222.9L494.5 223.4L494.6 223.8L494.6 224.2L494.6 224.5L494.6 224.7L494.6 224.9L494.6 225.1L494.6 225.2L494.6 225.3L494.6 225.4L494.6 225.5L494.6 225.6L494.6 225.8" fill="none" stroke="#151515" stroke-width="1.0" stroke-linejoin="round"/>
<path d="M404.0 225.8L404.0 225.7L404.0 225.6L404.0 225.5L404.0 225.4L404.0 225.3L404.0 225.2L404.0 225.1L404.0 224.9L404.0 224.7L404.0 224.5L404.0 224.2L404.1 223.9L404.1 223.5L404.1 223.0L404.1 222.4L404.2 221.7L404.2 220.8L404.3 219.8L404.4 218.5L404.6 216.9L404.8 215.1L405.1 212.8L405.6 210.1L406.2 206.8L407.1 203.0L408.4 198.4L410.2 193.2L412.7 187.2L416.1 180.6L420.7 173.6L426.6 166.7L434.0 160.4L442.8 155.5L452.6 152.7L462.8 152.5L472.7 154.9L481.7 159.6L489.3 165.7L495.5 172.6L500.3 179.6L503.9 186.2L506.5 192.3L508.4 197.7L509.7 202.3L510.6 206.3L511.3 209.6L511.8 212.4L512.1 214.7L512.3 216.7L512.5 218.3L512.6 219.6L512.7 220.7L512.8 221.6L512.8 222.3L512.8 222.9L512.9 223.4L512.9 223.9L512.9 224.2L512.9 224.5L512.9 224.7L512.9 224.9L512.9 225.1L512.9 225.2L512.9 225.3L512.9 225.4L512.9 225.5L513.0 225.5L513.0 225.6L513.0 225.8" fill="none" stroke="#151515" stroke-width="1.0" stroke-linejoin="round"/>
<path d="M404.0 225.8L404.0 225.7L404.0 225.6L404.0 225.5L404.0 225.4L404.0 225.3L404.0 225.2L404.0 225.1L404.0 225.0L404.0 224.8L404.0 224.6L404.0 224.3L404.1 224.0L404.1 223.6L404.1 223.2L404.1 222.6L404.1 221.9L404.2 221.1L404.2 220.1L404.3 218.9L404.4 217.4L404.5 215.6L404.7 213.4L405.0 210.8L405.4 207.6L405.9 203.8L406.7 199.2L407.7 193.7L409.3 187.2L411.4 179.5L414.4 170.6L418.7 160.5L424.4 149.3L432.2 137.5L442.3 125.7L454.8 115.1L469.7 106.8L486.3 102.1L503.6 101.8L520.3 105.9L535.5 113.7L548.4 124.1L558.9 135.7L566.9 147.6L573.0 158.9L577.4 169.1L580.6 178.2L582.9 186.1L584.5 192.8L585.6 198.4L586.4 203.2L586.9 207.1L587.3 210.4L587.6 213.1L587.8 215.3L588.0 217.1L588.1 218.7L588.1 219.9L588.2 221.0L588.2 221.8L588.3 222.5L588.3 223.1L588.3 223.6L588.3 224.0L588.3 224.3L588.4 224.6L588.4 224.8L588.4 225.0L588.4 225.1L588.4 225.2L588.4 225.3L588.4 225.4L588.4 225.5L588.4 225.8" fill="none" stroke="#151515" stroke-width="1.0" stroke-linejoin="round"/>
<path d="M404.0 225.8L404.0 225.7L404.0 225.6L404.0 225.5L404.0 225.4L404.0 225.3L404.0 225.2L404.0 225.1L404.0 224.9L404.0 224.7L404.0 224.5L404.0 224.2L404.1 223.9L404.1 223.5L404.1 223.0L404.1 222.3L404.1 221.6L404.2 220.7L404.2 219.6L404.3 218.3L404.4 216.7L404.5 214.7L404.6 212.3L404.9 209.5L405.2 206.0L405.6 201.8L406.2 196.7L407.1 190.6L408.3 183.2L410.0 174.4L412.4 164.0L415.9 151.7L420.7 137.5L427.4 121.3L436.7 103.4L449.1 84.5L465.2 65.7L485.3 48.7L509.1 35.5L535.6 28.0L563.2 27.5L590.1 34.0L614.3 46.5L635.0 63.1L651.7 81.7L664.6 100.7L674.3 118.7L681.4 135.2L686.5 149.7L690.1 162.3L692.6 173.0L694.4 182.0L695.7 189.6L696.6 195.9L697.2 201.1L697.7 205.4L698.0 209.0L698.2 212.0L698.4 214.4L698.5 216.4L698.6 218.1L698.7 219.4L698.7 220.6L698.8 221.5L698.8 222.2L698.8 222.9L698.8 223.4L698.9 223.8L698.9 224.2L698.9 224.5L698.9 224.7L698.9 224.9L698.9 225.0L698.9 225.2L698.9 225.3L698.9 225.8" fill="none" stroke="#151515" stroke-width="1.0" stroke-linejoin="round"/>
<g><circle cx="453.2" cy="164.3" r="2.28" fill="#000"/><circle cx="450.1" cy="164.3" r="2.28" fill="#000"/><circle cx="447.0" cy="165.1" r="2.28" fill="#000"/><circle cx="439.1" cy="163.6" r="2.28" fill="#000"/><circle cx="433.9" cy="165.8" r="2.28" fill="#000"/><circle cx="431.2" cy="168.0" r="2.28" fill="#000"/><circle cx="428.6" cy="170.2" r="2.28" fill="#000"/><circle cx="426.0" cy="171.7" r="2.28" fill="#000"/><circle cx="423.9" cy="173.1" r="2.28" fill="#000"/><circle cx="418.0" cy="179.8" r="2.28" fill="#000"/><circle cx="415.9" cy="182.0" r="2.28" fill="#000"/><circle cx="414.4" cy="184.6" r="2.28" fill="#000"/><circle cx="412.9" cy="187.1" r="2.28" fill="#000"/><circle cx="411.8" cy="189.7" r="2.28" fill="#000"/><circle cx="410.7" cy="192.3" r="2.28" fill="#000"/><circle cx="409.6" cy="194.7" r="2.28" fill="#000"/><circle cx="408.4" cy="197.1" r="2.28" fill="#000"/><circle cx="407.3" cy="199.4" r="2.28" fill="#000"/><circle cx="406.8" cy="201.9" r="2.28" fill="#000"/><circle cx="406.3" cy="204.2" r="2.28" fill="#000"/><circle cx="405.8" cy="206.6" r="2.28" fill="#000"/><circle cx="405.4" cy="208.9" r="2.28" fill="#000"/><circle cx="405.1" cy="211.1" r="2.28" fill="#000"/><circle cx="404.7" cy="213.3" r="2.28" fill="#000"/><circle cx="404.5" cy="215.5" r="2.28" fill="#000"/><circle cx="404.3" cy="217.6" r="2.28" fill="#000"/><circle cx="404.2" cy="219.6" r="2.28" fill="#000"/><circle cx="404.1" cy="221.6" r="2.28" fill="#000"/><circle cx="404.0" cy="223.6" r="2.28" fill="#000"/><circle cx="404.0" cy="225.5" r="2.28" fill="#000"/><circle cx="404.0" cy="225.8" r="2.28" fill="#000"/></g>
<g><path d="M452.8 151.8L456.9 151.8L454.8 155.5Z" fill="#e40c0c" stroke="#200" stroke-width="0.75"/><path d="M447.0 153.3L451.1 153.3L449.0 157.0Z" fill="#e40c0c" stroke="#200" stroke-width="0.75"/><path d="M431.3 156.2L435.4 156.2L433.3 159.9Z" fill="#e40c0c" stroke="#200" stroke-width="0.75"/><path d="M427.1 160.6L431.2 160.6L429.1 164.3Z" fill="#e40c0c" stroke="#200" stroke-width="0.75"/><path d="M424.0 164.3L428.0 164.3L426.0 167.9Z" fill="#e40c0c" stroke="#200" stroke-width="0.75"/><path d="M420.3 167.9L424.4 167.9L422.3 171.6Z" fill="#e40c0c" stroke="#200" stroke-width="0.75"/><path d="M412.5 178.3L416.5 178.3L414.5 181.9Z" fill="#e40c0c" stroke="#200" stroke-width="0.75"/><path d="M410.9 181.6L415.0 181.6L412.9 185.3Z" fill="#e40c0c" stroke="#200" stroke-width="0.75"/><path d="M409.4 184.8L413.5 184.8L411.4 188.5Z" fill="#e40c0c" stroke="#200" stroke-width="0.75"/><path d="M408.2 188.0L412.3 188.0L410.3 191.7Z" fill="#e40c0c" stroke="#200" stroke-width="0.75"/><path d="M407.2 191.3L411.3 191.3L409.3 195.0Z" fill="#e40c0c" stroke="#200" stroke-width="0.75"/><path d="M406.3 194.5L410.4 194.5L408.3 198.2Z" fill="#e40c0c" stroke="#200" stroke-width="0.75"/><path d="M405.6 197.6L409.7 197.6L407.6 201.3Z" fill="#e40c0c" stroke="#200" stroke-width="0.95"/><path d="M404.9 200.7L409.0 200.7L407.0 204.4Z" fill="#e40c0c" stroke="#200" stroke-width="0.95"/><path d="M404.3 203.7L408.4 203.7L406.4 207.4Z" fill="#e40c0c" stroke="#200" stroke-width="0.95"/><path d="M403.8 206.7L407.9 206.7L405.8 210.4Z" fill="#e40c0c" stroke="#200" stroke-width="0.95"/><path d="M403.3 209.6L407.4 209.6L405.4 213.2Z" fill="#e40c0c" stroke="#200" stroke-width="0.95"/><path d="M403.0 212.4L407.0 212.4L405.0 216.0Z" fill="#e40c0c" stroke="#200" stroke-width="0.95"/><path d="M402.6 215.2L406.7 215.2L404.6 218.8Z" fill="#e40c0c" stroke="#200" stroke-width="0.95"/><path d="M402.4 217.9L406.5 217.9L404.4 221.5Z" fill="#e40c0c" stroke="#200" stroke-width="0.95"/><path d="M402.2 220.5L406.3 220.5L404.3 224.1Z" fill="#e40c0c" stroke="#200" stroke-width="0.95"/><path d="M402.0 223.1L406.1 223.1L404.1 226.7Z" fill="#e40c0c" stroke="#200" stroke-width="1.35"/><path d="M402.0 224.3L406.0 224.3L404.0 227.9Z" fill="#e40c0c" stroke="#200" stroke-width="0.75"/></g>
<g><rect x="446.7" y="120.1" width="3.7" height="3.7" fill="#10e810" stroke="#021" stroke-width="0.75"/><rect x="440.4" y="125.2" width="3.7" height="3.7" fill="#10e810" stroke="#021" stroke-width="0.75"/><rect x="436.2" y="128.8" width="3.7" height="3.7" fill="#10e810" stroke="#021" stroke-width="0.75"/><rect x="428.4" y="137.6" width="3.7" height="3.7" fill="#10e810" stroke="#021" stroke-width="0.75"/><rect x="421.5" y="145.7" width="3.7" height="3.7" fill="#10e810" stroke="#021" stroke-width="0.75"/><rect x="418.9" y="150.8" width="3.7" height="3.7" fill="#10e810" stroke="#021" stroke-width="0.75"/><rect x="414.7" y="154.5" width="3.7" height="3.7" fill="#10e810" stroke="#021" stroke-width="0.75"/><rect x="412.6" y="159.6" width="3.7" height="3.7" fill="#10e810" stroke="#021" stroke-width="0.75"/><rect x="410.5" y="170.9" width="3.7" height="3.7" fill="#10e810" stroke="#021" stroke-width="0.75"/><rect x="409.1" y="174.3" width="3.7" height="3.7" fill="#10e810" stroke="#021" stroke-width="0.75"/><rect x="408.3" y="177.7" width="3.7" height="3.7" fill="#10e810" stroke="#021" stroke-width="0.75"/><rect x="407.8" y="181.2" width="3.7" height="3.7" fill="#10e810" stroke="#021" stroke-width="0.75"/><rect x="407.4" y="184.6" width="3.7" height="3.7" fill="#10e810" stroke="#021" stroke-width="0.75"/><rect x="407.0" y="187.9" width="3.7" height="3.7" fill="#10e810" stroke="#021" stroke-width="0.75"/><rect x="406.4" y="191.0" width="3.7" height="3.7" fill="#10e810" stroke="#021" stroke-width="0.95"/><rect x="405.8" y="194.1" width="3.7" height="3.7" fill="#10e810" stroke="#021" stroke-width="0.95"/><rect x="405.3" y="197.1" width="3.7" height="3.7" fill="#10e810" stroke="#021" stroke-width="0.95"/><rect x="404.7" y="200.1" width="3.7" height="3.7" fill="#10e810" stroke="#021" stroke-width="0.95"/><rect x="404.2" y="203.0" width="3.7" height="3.7" fill="#10e810" stroke="#021" stroke-width="0.95"/><rect x="403.8" y="205.8" width="3.7" height="3.7" fill="#10e810" stroke="#021" stroke-width="0.95"/><rect x="403.4" y="208.5" width="3.7" height="3.7" fill="#10e810" stroke="#021" stroke-width="0.95"/><rect x="403.1" y="211.2" width="3.7" height="3.7" fill="#10e810" stroke="#021" stroke-width="0.95"/><rect x="402.8" y="213.8" width="3.7" height="3.7" fill="#10e810" stroke="#021" stroke-width="0.95"/><rect x="402.5" y="216.4" width="3.7" height="3.7" fill="#10e810" stroke="#021" stroke-width="0.95"/><rect x="402.4" y="218.9" width="3.7" height="3.7" fill="#10e810" stroke="#021" stroke-width="0.95"/><rect x="402.3" y="221.3" width="3.7" height="3.7" fill="#10e810" stroke="#021" stroke-width="0.95"/><rect x="402.2" y="223.7" width="3.7" height="3.7" fill="#10e810" stroke="#021" stroke-width="1.35"/><rect x="402.2" y="224.0" width="3.7" height="3.7" fill="#10e810" stroke="#021" stroke-width="0.75"/></g>
<g><path d="M436.5 105.1L439.1 102.5L441.7 105.1L439.1 107.6Z" fill="#f8f010" stroke="#110" stroke-width="0.75"/><path d="M430.8 112.4L433.3 109.8L435.9 112.4L433.3 115.0Z" fill="#f8f010" stroke="#110" stroke-width="0.75"/><path d="M425.0 120.4L427.6 117.9L430.1 120.4L427.6 123.0Z" fill="#f8f010" stroke="#110" stroke-width="0.75"/><path d="M420.8 134.3L423.4 131.8L425.9 134.3L423.4 136.9Z" fill="#f8f010" stroke="#110" stroke-width="0.75"/><path d="M415.1 143.9L417.6 141.3L420.2 143.9L417.6 146.4Z" fill="#f8f010" stroke="#110" stroke-width="0.75"/><path d="M413.0 150.4L415.5 147.9L418.1 150.4L415.5 153.0Z" fill="#f8f010" stroke="#110" stroke-width="0.75"/><path d="M409.0 155.9L411.6 153.3L414.2 155.9L411.6 158.4Z" fill="#f8f010" stroke="#110" stroke-width="0.75"/><path d="M406.2 172.7L408.8 170.1L411.4 172.7L408.8 175.3Z" fill="#f8f010" stroke="#110" stroke-width="0.75"/><path d="M405.1 176.1L407.7 173.6L410.2 176.1L407.7 178.7Z" fill="#f8f010" stroke="#110" stroke-width="0.75"/><path d="M404.3 179.6L406.9 177.0L409.4 179.6L406.9 182.2Z" fill="#f8f010" stroke="#110" stroke-width="0.75"/><path d="M403.6 183.0L406.1 180.4L408.7 183.0L406.1 185.6Z" fill="#f8f010" stroke="#110" stroke-width="0.75"/><path d="M403.1 186.3L405.6 183.7L408.2 186.3L405.6 188.9Z" fill="#f8f010" stroke="#110" stroke-width="0.75"/><path d="M402.7 189.6L405.2 187.0L407.8 189.6L405.2 192.2Z" fill="#f8f010" stroke="#110" stroke-width="0.75"/><path d="M402.4 192.8L405.0 190.2L407.6 192.8L405.0 195.4Z" fill="#f8f010" stroke="#110" stroke-width="0.95"/><path d="M402.2 195.9L404.8 193.3L407.3 195.9L404.8 198.5Z" fill="#f8f010" stroke="#110" stroke-width="0.95"/><path d="M402.0 199.0L404.6 196.4L407.1 199.0L404.6 201.6Z" fill="#f8f010" stroke="#110" stroke-width="0.95"/><path d="M401.9 202.0L404.4 199.4L407.0 202.0L404.4 204.6Z" fill="#f8f010" stroke="#110" stroke-width="0.95"/><path d="M401.8 204.9L404.3 202.3L406.9 204.9L404.3 207.5Z" fill="#f8f010" stroke="#110" stroke-width="0.95"/><path d="M401.7 207.7L404.2 205.1L406.8 207.7L404.2 210.3Z" fill="#f8f010" stroke="#110" stroke-width="0.95"/><path d="M401.6 210.5L404.1 207.9L406.7 210.5L404.1 213.1Z" fill="#f8f010" stroke="#110" stroke-width="0.95"/><path d="M401.5 213.2L404.1 210.6L406.7 213.2L404.1 215.8Z" fill="#f8f010" stroke="#110" stroke-width="0.95"/><path d="M401.5 215.8L404.0 213.2L406.6 215.8L404.0 218.4Z" fill="#f8f010" stroke="#110" stroke-width="0.95"/><path d="M401.4 218.4L404.0 215.8L406.6 218.4L404.0 221.0Z" fill="#f8f010" stroke="#110" stroke-width="0.95"/><path d="M401.4 220.9L404.0 218.3L406.6 220.9L404.0 223.5Z" fill="#f8f010" stroke="#110" stroke-width="0.95"/><path d="M401.4 223.4L404.0 220.8L406.6 223.4L404.0 226.0Z" fill="#f8f010" stroke="#110" stroke-width="0.95"/><path d="M401.4 225.8L404.0 223.2L406.6 225.8L404.0 228.4Z" fill="#f8f010" stroke="#110" stroke-width="1.35"/><path d="M401.4 225.8L404.0 223.2L406.6 225.8L404.0 228.4Z" fill="#f8f010" stroke="#110" stroke-width="0.75"/></g>
<text class="tk" x="404.0" y="240.7" text-anchor="middle">0</text>
<text class="tk" x="456.4" y="240.7" text-anchor="middle">10</text>
<text class="tk" x="508.8" y="240.7" text-anchor="middle">20</text>
<text class="tk" x="561.1" y="240.7" text-anchor="middle">30</text>
<text class="tk" x="613.5" y="240.7" text-anchor="middle">40</text>
<text class="tk" x="665.9" y="240.7" text-anchor="middle">50</text>
<text class="tk" x="718.3" y="240.7" text-anchor="middle">60</text>
<text class="tk" x="398.6" y="229.7" text-anchor="end">0</text>
<text class="tk" x="398.6" y="193.1" text-anchor="end">5</text>
<text class="tk" x="398.6" y="156.5" text-anchor="end">10</text>
<text class="tk" x="398.6" y="120.0" text-anchor="end">15</text>
<text class="tk" x="398.6" y="83.4" text-anchor="end">20</text>
<text class="tk" x="398.6" y="46.8" text-anchor="end">25</text>
<text class="tk" x="398.6" y="10.2" text-anchor="end">30</text>
<circle cx="289.4" cy="19.5" r="3.29" fill="#000"/><text class="se" x="310.6" y="23.2" font-size="12.2">wet air</text><path d="M286.6 35.2L292.2 35.2L289.4 40.2Z" fill="#e40c0c" stroke="#200" stroke-width="0.75"/><text class="se" x="310.6" y="38.8" font-size="12.2">25% O<tspan dy="3.9" font-size="7.8">2</tspan></text><rect x="286.9" y="53.2" width="5.0" height="5.0" fill="#10e810" stroke="#021" stroke-width="0.75"/><text class="se" x="310.6" y="57.4" font-size="12.2">50% O<tspan dy="3.9" font-size="7.8">2</tspan></text><path d="M285.9 74.6L289.4 71.1L292.9 74.6L289.4 78.1Z" fill="#f8f010" stroke="#110" stroke-width="0.75"/><text class="se" x="310.6" y="76.5" font-size="12.2">100% O<tspan dy="3.9" font-size="7.8">2</tspan></text>
<circle cx="649.1" cy="20.2" r="2.59" fill="#000"/><text class="se" x="670.2" y="23.5" font-size="12.2">wet air</text><path d="M646.9 35.8L651.3 35.8L649.1 39.7Z" fill="#e40c0c" stroke="#200" stroke-width="0.75"/><text class="se" x="670.2" y="39.2" font-size="12.2">25% O<tspan dy="3.9" font-size="7.8">2</tspan></text><rect x="647.1" y="54.2" width="3.9" height="3.9" fill="#10e810" stroke="#021" stroke-width="0.75"/><text class="se" x="670.2" y="57.9" font-size="12.2">50% O<tspan dy="3.9" font-size="7.8">2</tspan></text><path d="M646.4 75.0L649.1 72.3L651.8 75.0L649.1 77.7Z" fill="#f8f010" stroke="#110" stroke-width="0.75"/><text class="se" x="670.2" y="76.8" font-size="12.2">100% O<tspan dy="3.9" font-size="7.8">2</tspan></text>
<text class="se" x="153.6" y="23.3" font-size="12.6"><tspan font-style="italic">f</tspan><tspan dy="3.6" dx="0.6">max</tspan><tspan dy="-3.6"> = 1.1 kHz</tspan></text>
<text class="se" x="524.6" y="19.2" font-size="12.6"><tspan font-style="italic">f</tspan><tspan dy="3.8" dx="0.6" font-size="8.2">max</tspan><tspan dy="-3.8" dx="0.6">= 40 Hz</tspan></text>
<text class="se" x="197.1" y="257.8" font-size="14.4" text-anchor="middle"><tspan font-style="italic">Z′</tspan> ( MΩ )</text>
<text class="se" x="561.4" y="257.8" font-size="14.4" text-anchor="middle"><tspan font-style="italic">Z′</tspan> ( MΩ )</text>
<text class="se" transform="translate(12.0,115.2) rotate(-90)" font-size="14.4" text-anchor="middle">-<tspan font-style="italic">Z″</tspan> ( MΩ )</text>
<text class="se" transform="translate(376.4,115.2) rotate(-90)" font-size="14.4" text-anchor="middle">-<tspan font-style="italic">Z″</tspan> ( MΩ )</text>
<text class="se" x="182.4" y="314.3" font-size="22.3" text-anchor="middle">(a)</text>
<text class="se" x="589.1" y="314.3" font-size="22.3" text-anchor="middle">(b)</text>
<text class="se" x="428.4" y="570.8" font-size="21.5" text-anchor="middle">(c)</text>
<g stroke="#000" fill="none" stroke-linecap="butt">
<path d="M202 400.6H239M322 400.6H381M462 400.6H523" stroke-width="2.6"/>
<path d="M353 400.6V512H409M429 512H491.3V400.6" stroke-width="2.8"/>
<ellipse cx="193.3" cy="400.1" rx="8.8" ry="9.3" stroke-width="3.3" fill="#fff"/>
<ellipse cx="531.9" cy="400.7" rx="8.9" ry="9.2" stroke-width="3.3" fill="#fff"/>
</g>
<rect x="237.4" y="387.8" width="85.6" height="21.6" fill="#000"/><rect x="242.3" y="393.3" width="76.3" height="12.2" fill="#fff"/>
<rect x="379.9" y="389.4" width="83" height="22.8" fill="#000"/><rect x="383" y="394.4" width="75.8" height="12.6" fill="#fff"/>
<ellipse cx="353.8" cy="400.2" rx="10.7" ry="10.5" fill="#000"/>
<ellipse cx="491.7" cy="400.5" rx="10.7" ry="10.5" fill="#000"/>
<rect x="405.8" y="479.7" width="7.6" height="62.6" fill="#000"/>
<rect x="425.1" y="479.7" width="7.5" height="62.6" fill="#000"/>
<text class="se" x="260.5" y="381.5" font-size="42.5" fill="#000" style="stroke:#000;stroke-width:.35px">R<tspan font-size="31" dx="6" dy="0.5">g</tspan></text>
<text class="se" x="393" y="380" font-size="42.5" fill="#000" style="stroke:#000;stroke-width:.35px">R<tspan font-size="30" dx="3.5" dy="2.5">gb</tspan></text>
<text class="se" x="396.5" y="468.8" font-size="42.5" fill="#000" style="stroke:#000;stroke-width:.35px">C<tspan font-size="30" dx="2" dy="2.5">gb</tspan></text>
</svg></body></html>
